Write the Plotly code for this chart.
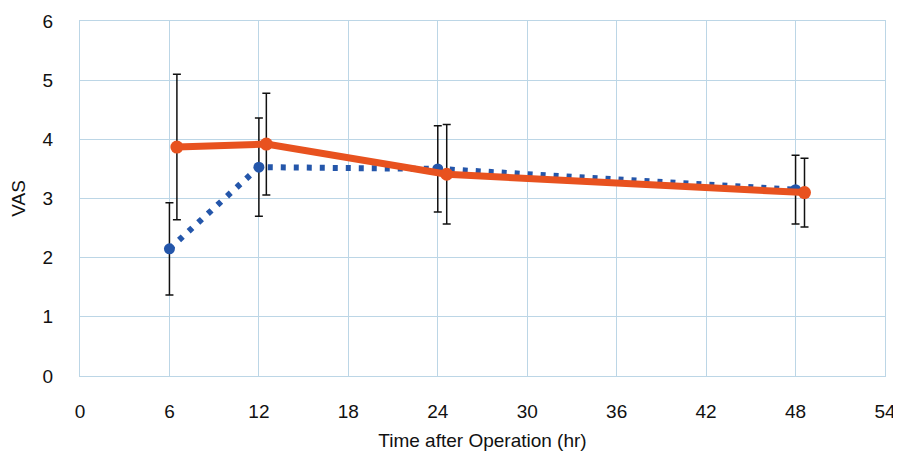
import plotly.graph_objects as go

# Data
blue_x = [6, 12, 24, 48]
blue_y = [2.15, 3.53, 3.5, 3.15]
blue_err = [0.78, 0.83, 0.73, 0.58]

orange_x = [6.5, 12.5, 24.6, 48.6]
orange_y = [3.87, 3.92, 3.41, 3.1]
orange_err = [1.23, 0.86, 0.84, 0.58]

x_ticks = [0, 6, 12, 18, 24, 30, 36, 42, 48, 54]
y_ticks = [0, 1, 2, 3, 4, 5, 6]

BLUE = "#2456AA"
ORANGE = "#E8521F"
GRID = "#BCD6E6"
FONT = "Liberation Sans, Arial, sans-serif"

fig = go.Figure()

fig.add_trace(go.Scatter(
    x=blue_x, y=blue_y, mode="lines+markers",
    line=dict(color=BLUE, width=6, dash="5px,8px"),
    marker=dict(color=BLUE, size=11),
    error_y=dict(type="data", array=blue_err, visible=True,
                 color="#111111", thickness=1.5, width=4),
    showlegend=False,
))

fig.add_trace(go.Scatter(
    x=orange_x, y=orange_y, mode="lines+markers",
    line=dict(color=ORANGE, width=7),
    marker=dict(color=ORANGE, size=13),
    error_y=dict(type="data", array=orange_err, visible=True,
                 color="#111111", thickness=1.5, width=4),
    showlegend=False,
))

# page body has an 8px margin, so the figure is sized to fit the window
fig.update_layout(
    width=893, height=452,
    margin=dict(l=72, r=16, t=13, b=84),
    paper_bgcolor="white", plot_bgcolor="white",
    font=dict(family=FONT, size=18, color="#111111"),
    xaxis=dict(
        range=[0, 54], tickvals=x_ticks, ticktext=[str(v) for v in x_ticks],
        showgrid=True, gridcolor=GRID, gridwidth=1,
        showline=True, linecolor=GRID, linewidth=1, mirror=True,
        zeroline=False, ticks="", ticklabelstandoff=18, automargin=False,
        title=dict(text="Time after Operation (hr)", standoff=12,
                   font=dict(family=FONT, size=19)),
        tickfont=dict(family=FONT, size=19),
    ),
    yaxis=dict(
        range=[0, 6], tickvals=y_ticks, ticktext=[str(v) for v in y_ticks],
        showgrid=True, gridcolor=GRID, gridwidth=1,
        showline=True, linecolor=GRID, linewidth=1, mirror=True,
        zeroline=False, ticks="", ticklabelstandoff=22, automargin=False,
        title=dict(text="VAS", standoff=18, font=dict(family=FONT, size=19)),
        tickfont=dict(family=FONT, size=19),
    ),
)

fig.write_html("out.html")
